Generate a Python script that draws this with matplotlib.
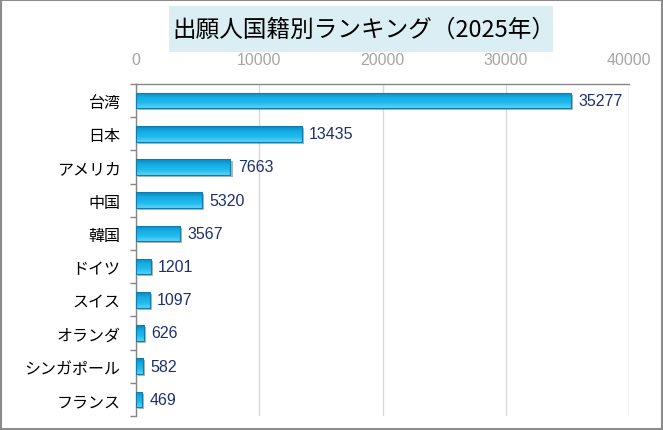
import numpy as np
import matplotlib
matplotlib.use("Agg")
import matplotlib.pyplot as plt
import matplotlib.patheffects as pe
from matplotlib.colors import LinearSegmentedColormap
from matplotlib.patches import Rectangle

countries = ["台湾", "日本", "アメリカ", "中国", "韓国", "ドイツ", "スイス", "オランダ", "シンガポール", "フランス"]
counts = [35277, 13435, 7663, 5320, 3567, 1201, 1097, 626, 582, 469]
xticks = [0, 10000, 20000, 30000, 40000]
title = "出願人国籍別ランキング（2025年）"

plt.rcParams['font.family'] = ['Noto Sans CJK JP', 'DejaVu Sans']
latin = ['Liberation Sans', 'DejaVu Sans']

fig = plt.figure(figsize=(6.63, 4.31), dpi=100)
ax = fig.add_axes([136/663, 1 - 417/431, (629-136)/663, (417-85)/431])

ypos = np.arange(len(countries))
bars = ax.barh(ypos, counts, height=0.47, color='#1DB3E8', edgecolor='none',
               linewidth=0, zorder=3,
               path_effects=[pe.SimplePatchShadow(offset=(1.5, -1.5), alpha=0.35), pe.Normal()])

# gradient fill inside the bars, then an outline on top
grad_cmap = LinearSegmentedColormap.from_list('g', ['#0A86BE', '#15ACE4', '#1FBAEE', '#5CD2F5'])
grad = np.linspace(0, 1, 64).reshape(-1, 1)
for b in bars:
    x0, y0 = b.get_x(), b.get_y()
    w, h = b.get_width(), b.get_height()
    im = ax.imshow(grad, extent=[x0, x0 + w, y0 + h, y0], cmap=grad_cmap,
                   aspect='auto', zorder=3.5, origin='upper')
    im.set_clip_path(b)
    ax.add_patch(Rectangle((x0, y0), w, h, facecolor='none', edgecolor='#137DAA',
                           linewidth=0.8, zorder=4))

for y, v in zip(ypos, counts):
    ax.text(v + 600, y, str(v), va='center', ha='left', fontsize=11.5,
            color='#1F2F6B', family=latin, zorder=5)

ax.set_xlim(0, 40000)
ax.set_ylim(len(countries) - 0.5, -0.5)
ax.xaxis.tick_top()
ax.set_xticks(xticks)
ax.set_xticklabels([str(t) for t in xticks], family=latin)
ax.tick_params(axis='x', length=0, pad=12, labelsize=11.5, labelcolor='#A6A6A6')
ax.set_yticks(ypos)
ax.set_yticklabels(countries)
ax.tick_params(axis='y', which='major', length=0, pad=11, labelsize=11.5, labelcolor='black')
ax.set_yticks(np.arange(-0.5, len(countries), 1), minor=True)
ax.tick_params(axis='y', which='minor', length=4, width=1, color='#868686')

ax.grid(axis='x', color='#D9D9D9', linewidth=1, zorder=0)
ax.set_axisbelow(True)
for s in ['right', 'bottom']:
    ax.spines[s].set_visible(False)
for s in ['left', 'top']:
    ax.spines[s].set_color('#868686')
    ax.spines[s].set_linewidth(1)

# title box
fig.patches.append(Rectangle((169/663, 1 - 53/431), (553-169)/663, (53-7)/431,
                             transform=fig.transFigure, facecolor='#DAEEF3',
                             edgecolor='none', zorder=0))
fig.text(364/663, 1 - 30/431, title, ha='center', va='center', fontsize=17, color='black')

# outer border
fig.patches.append(Rectangle((0.001, 0.002), 0.997, 0.996, transform=fig.transFigure,
                             facecolor='none', edgecolor='#8C8C8C', linewidth=1.5))

fig.savefig("out.png", dpi=100)
